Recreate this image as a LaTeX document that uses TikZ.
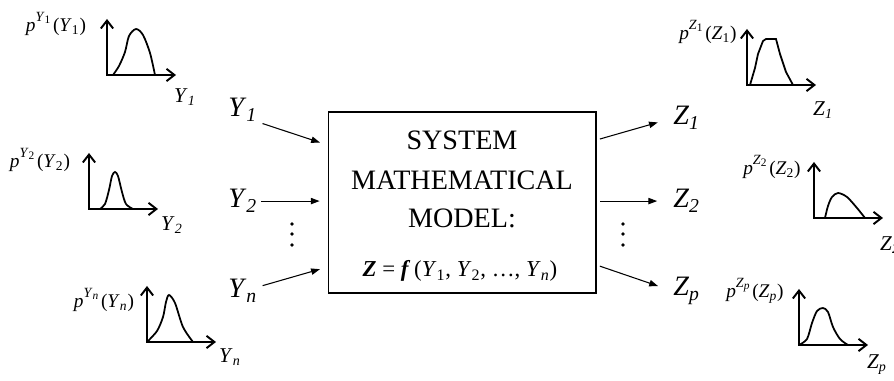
\documentclass[tikz,border=0pt]{standalone}
\usepackage{fontspec}
\setmainfont{Liberation Serif}
\usetikzlibrary{arrows.meta}
\newcommand{\rvar}[2]{\textit{#1}\textsubscript{#2}}
\newcommand{\dens}[2]{\textit{p}\raisebox{0.5em}{\fontsize{8}{9}\selectfont\textit{#1}\raisebox{-0.25ex}{\fontsize{6.5}{7}\selectfont #2}}\kern1.5pt(\rvar{#1}{#2})}
\begin{document}
\begin{tikzpicture}[x=0.02cm,y=-0.02cm,inner sep=0pt,
  big/.style={font=\fontsize{16}{18}\selectfont},
  axl/.style={font=\fontsize{12}{14}\selectfont},
  pl/.style={font=\fontsize{11}{13}\selectfont},
  axis/.style={line width=1.1pt,line join=miter,{Straight Barb[length=4.5pt,width=7pt]}-{Straight Barb[length=4.5pt,width=7pt]}},
  curve/.style={line width=1pt},
  flow/.style={line width=0.6pt,-{Triangle[length=5pt,width=3.6pt]}}]
\useasboundingbox (0,0) rectangle (894,381);
% system box
\node[draw,line width=0.6pt,minimum width=5.36cm,minimum height=3.62cm] (box) at (462,202.5) {};
\foreach \w/\b [count=\i] in {SYSTEM/150,MATHEMATICAL/190,MODEL:/228}
  \node[big,anchor=base] (line\i) at (462,\b) {\w};
\node[font=\fontsize{13}{15}\selectfont,anchor=base] (model) at (460,277) {\textbf{\textit{Z}} = \textbf{\textit{f}}\,(\rvar{Y}{1}, \rvar{Y}{2}, \ldots, \rvar{Y}{\textit{n}})};
% inputs and outputs
\node[big,anchor=base west] (y1) at (228,117) {\rvar{Y}{\textit{1}}};
\node[big,anchor=base west] (y2) at (228,208) {\rvar{Y}{\textit{2}}};
\node[big,anchor=base west] (yn) at (228,298) {\rvar{Y}{\textit{n}}};
\node[big,anchor=base west] (z1) at (673,125) {\rvar{Z}{\textit{1}}};
\node[big,anchor=base west] (z2) at (673,208) {\rvar{Z}{\textit{2}}};
\node[big,anchor=base west] (zp) at (673,296) {\rvar{Z}{\textit{p}}};
\foreach \d in {224,234,245} {
  \fill (292,\d) circle (1.1pt);
  \fill (623,\d) circle (1.1pt);
}
\draw[flow,shorten <=3pt,shorten >=4.5pt] (y1.south east) -- (box.west |- 0,145);
\draw[flow,shorten <=2pt,shorten >=4.5pt] (y2.east) -- (box.west |- y2.east);
\draw[flow,shorten <=3pt,shorten >=4.5pt] (yn.15) -- (box.west |- 0,267);
\draw[flow,shorten <=2pt,shorten >=9pt] (box.east |- 0,140) -- (z1.west);
\draw[flow,shorten <=2pt,shorten >=9pt] (box.east |- z2.west) -- (z2.west);
\draw[flow,shorten <=2pt,shorten >=9pt] (box.east |- 0,265) -- (zp.west);
% density plots
\foreach \x/\y in {107/75,89/209,147/342,747/85,814/218,799/345}
  \draw[axis] (\x,\y-56) -- (\x,\y) -- (\x+69,\y);
\draw[curve] plot[smooth] coordinates {(113,75) (119,66) (125,52) (129,36) (136,29) (143,35) (150,53) (155,75)};
\draw[curve] plot[smooth] coordinates {(100,209) (105,204) (109,190) (112,176) (115,172) (118,176) (122,192) (126,204) (133,209)};
\draw[curve] plot[smooth] coordinates {(147,342) (157,331) (163,317) (166,302) (169,295) (175,303) (183,327) (193,342)};
\draw[curve] (750,85) -- (755,68) -- (758,54) -- (763,41) -- (766,39) -- (776,39) -- (780,54) -- (786,72) -- (793,85);
\draw[curve] plot[smooth] coordinates {(825,218) (828,206) (832,197) (838,193) (847,197) (857,208) (865,218)};
\draw[curve] plot[smooth] coordinates {(799,345) (807,339) (812,323) (817,311) (823,308) (828,312) (833,327) (840,339) (848,345)};
\node[pl] (p1) at (56,24) {\dens{Y}{1}};
\node[pl] (p2) at (40,160) {\dens{Y}{2}};
\node[pl] (pn) at (104,300) {\dens{Y}{\textit{n}}};
\node[pl] (q1) at (708,32) {\dens{Z}{1}};
\node[pl] (q2) at (772,167) {\dens{Z}{2}};
\node[pl] (qp) at (755,291) {\dens{Z}{\textit{p}}};
\node[axl] (a1) at (185,97) {\rvar{Y}{\textit{1}}};
\node[axl] (a2) at (172,225) {\rvar{Y}{\textit{2}}};
\node[axl] (an) at (230,357) {\rvar{Y}{\textit{n}}};
\node[axl] (b1) at (823,110) {\rvar{Z}{\textit{1}}};
\node[axl] (b2) at (890,245) {\rvar{Z}{\textit{2}}};
\node[axl] (bp) at (877,365) {\rvar{Z}{\textit{p}}};
\end{tikzpicture}
\end{document}
